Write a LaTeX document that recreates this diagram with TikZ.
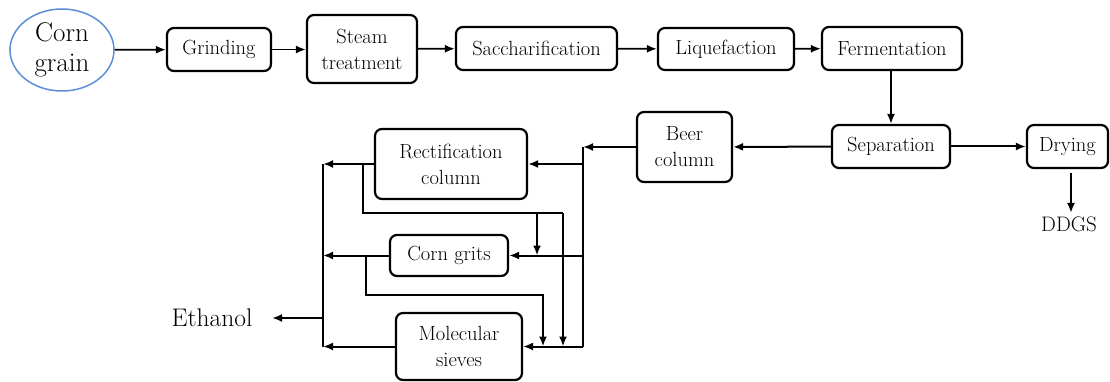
\documentclass[tikz,border=0pt]{standalone}
\usepackage{fontspec}
\usetikzlibrary{arrows.meta,shapes.geometric}
\definecolor{ovalblue}{HTML}{5B8FD6}
% slightly heavier serif text for all labels
\newcommand{\labelsize}[2]{\fontsize{#1}{#2}\selectfont\addfontfeatures{FakeBold=0.5}}
\begin{document}
\begin{tikzpicture}[x=1pt,y=-1pt,
  box/.style={draw, line width=2.2pt, rounded corners=7pt, align=center,
              inner sep=0pt, font=\labelsize{20.5}{26}},
  conn/.style={line width=2pt},
  arr/.style={conn, -{Latex[length=10pt,width=8pt]}},
  thinarr/.style={line width=1.8pt, -{Latex[length=10pt,width=8pt]}},
]
\useasboundingbox (0,0) rectangle (1110,382);

% main process line
\node[ellipse, draw=ovalblue, line width=1.5pt, minimum width=104pt,
      minimum height=82pt, inner sep=0pt, align=center,
      font=\labelsize{27}{30}] (corn) at (62,50) {Corn\\grain};
\node[box, minimum width=104pt, minimum height=43pt] (grind) at (219,49.5) {Grinding};
\node[box, minimum width=110pt, minimum height=68pt] (steam) at (362,49) {Steam\\treatment};
\node[box, minimum width=161pt, minimum height=43pt] (sacch) at (536.5,48.5) {Saccharification};
\node[box, minimum width=136pt, minimum height=42pt] (liq) at (726,49) {Liquefaction};
\node[box, minimum width=140pt, minimum height=43pt] (ferm) at (892,48.5) {Fermentation};

% separation stage
\node[box, minimum width=118pt, minimum height=43pt] (sep) at (891,146.5) {Separation};
\node[box, minimum width=81pt, minimum height=43pt] (dry) at (1067.5,146.5) {Drying};
\node[font=\labelsize{21}{25}] (ddgs) at (1069,224) {DDGS};
\node[box, minimum width=95pt, minimum height=70pt] (beer) at (684.5,147) {Beer\\column};

% purification stage
\node[box, minimum width=152pt, minimum height=70pt] (rect) at (451,164) {Rectification\\column};
\node[box, minimum width=118pt, minimum height=41pt] (grits) at (449,255.5) {Corn grits};
\node[box, minimum width=126pt, minimum height=67pt] (sieves) at (459,346.5) {Molecular\\sieves};
\node[font=\labelsize{25.5}{28}, anchor=east] (eth) at (256,318) {Ethanol};

% top row connectors
\draw[thinarr] (corn) -- (grind);
\draw[thinarr] (grind) -- (steam.west |- grind);
\draw[thinarr] (steam) -- (sacch);
\draw[thinarr] (sacch) -- (liq);
\draw[thinarr] (liq) -- (ferm);
\draw[thinarr] (ferm.south -| sep.north) -- (sep.north);
\draw[arr] (sep) -- (beer);
\draw[arr] (sep) -- (dry);
\coordinate (dryOut) at (1071,173);
\draw[arr] (dryOut) -- (dryOut |- ddgs.north);

% feed manifold on the right
\coordinate (feed) at (583,147);
\draw[arr] (beer.west) -- (feed);
\draw[conn] (feed) -- (feed |- sieves.east);
\draw[arr] (rect.east -| feed) -- (rect.east);
\draw[arr] (grits.east -| feed) -- (grits.east);
\draw[arr] (sieves.east -| feed) -- (sieves.east);

% product collector on the left
\coordinate (coll) at (323,164);
\draw[conn] (coll) -- (coll |- sieves.west);
\draw[arr] (rect.west) -- (coll);
\draw[arr] (grits.west) -- (grits.west -| coll);
\draw[arr] (sieves.west) -- (sieves.west -| coll);
\coordinate (ethOut) at (323,318);
\draw[arr, shorten >=16pt] (ethOut) -- (eth.east);

% bypass from rectification column
\coordinate (rTap) at (363,164);
\coordinate (rRun) at (363,213);
\coordinate (rDropA) at (537,213);
\coordinate (rDropB) at (563,213);
\draw[conn] (rTap) -- (rRun) -- (rDropB);
\draw[arr] (rDropA) -- (rDropA |- grits.east);
\draw[arr] (rDropB) -- (rDropB |- sieves.east);

% bypass from corn grits
\coordinate (gTap) at (366,255.5);
\coordinate (gDrop) at (543,295);
\draw[arr] (gTap) |- (gDrop) -- (gDrop |- sieves.east);
\end{tikzpicture}
\end{document}
